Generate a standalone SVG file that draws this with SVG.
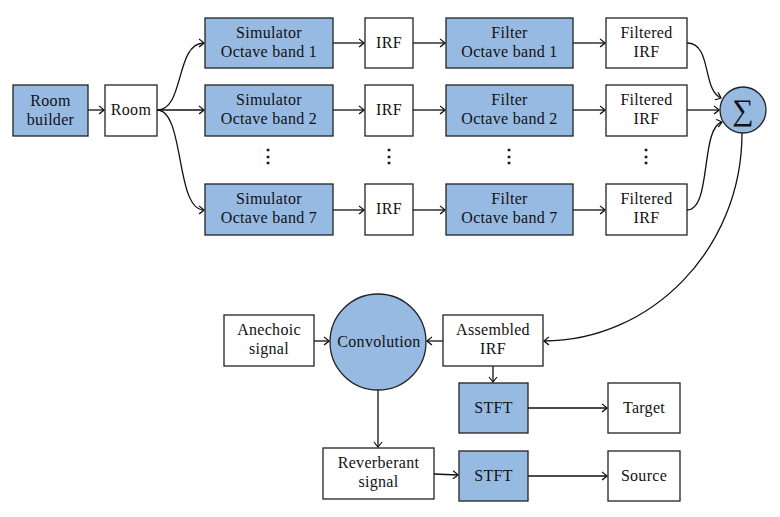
<svg xmlns="http://www.w3.org/2000/svg" width="780" height="517" viewBox="0 0 780 517">
<style>
.b{fill:#97bae3;stroke:#222;stroke-width:1.3}
.w{fill:#fff;stroke:#222;stroke-width:1.3}
text{font-size:16px;letter-spacing:0.3px;fill:#111;text-anchor:middle}
.c path,.c line{fill:none;stroke:#111;stroke-width:1.3}
.d{font-size:18px;font-weight:bold}
</style>
<defs>
<marker id="a" viewBox="-6 -5 8 10" markerWidth="8" markerHeight="10" refX="0" refY="0" orient="auto" markerUnits="userSpaceOnUse">
<path d="M-5,-4 Q-1,-1 0,0 Q-1,1 -5,4" fill="none" stroke="#111" stroke-width="1.2"/>
</marker>
</defs>
<rect width="780" height="517" fill="#fff"/>
<g class="c" marker-end="url(#a)">
<line x1="88" y1="110" x2="104" y2="110"/>
<path d="M157,110 C185,110 175,43 204,43"/>
<line x1="157" y1="110" x2="204" y2="110"/>
<path d="M157,110 C185,110 175,210 204,210"/>
<line x1="333" y1="43" x2="364" y2="43"/>
<line x1="333" y1="110" x2="364" y2="110"/>
<line x1="333" y1="210" x2="364" y2="210"/>
<line x1="413" y1="43" x2="445" y2="43"/>
<line x1="413" y1="110" x2="445" y2="110"/>
<line x1="413" y1="210" x2="445" y2="210"/>
<line x1="573" y1="43" x2="605" y2="43"/>
<line x1="573" y1="110" x2="605" y2="110"/>
<line x1="573" y1="210" x2="605" y2="210"/>
<path d="M687,43 C712,43 702,90 721,98"/>
<line x1="687" y1="110" x2="719" y2="110"/>
<path d="M687,210 C712,210 700,128 722,122"/>
<path d="M742,133 C742,250 650,341 544,341"/>
<line x1="443" y1="341" x2="427" y2="341"/>
<line x1="314" y1="341" x2="329" y2="341"/>
<line x1="493" y1="366" x2="493" y2="382"/>
<line x1="378" y1="390" x2="378" y2="447"/>
<line x1="434" y1="474" x2="458" y2="475"/>
<line x1="528" y1="408" x2="607" y2="408"/>
<line x1="528" y1="476" x2="607" y2="476"/>
</g>
<g font-family="'Liberation Serif', 'Times New Roman', 'DejaVu Serif', serif">
<g id="roombuilder"><rect class="b" x="13" y="85" width="75" height="51"/><text x="50.5" y="106">Room</text><text x="50.5" y="125">builder</text></g>
<g id="room"><rect class="w" x="105" y="85" width="52" height="51"/><text x="131" y="115">Room</text></g>
<g id="sim1"><rect class="b" x="205" y="18" width="128" height="50"/><text x="269" y="38">Simulator</text><text x="269" y="57">Octave band 1</text></g>
<g id="sim2"><rect class="b" x="205" y="85" width="128" height="51"/><text x="269" y="105">Simulator</text><text x="269" y="124">Octave band 2</text></g>
<g id="sim7"><rect class="b" x="205" y="184" width="128" height="51"/><text x="269" y="204">Simulator</text><text x="269" y="223">Octave band 7</text></g>
<g id="irf1"><rect class="w" x="365" y="18" width="48" height="50"/><text x="389" y="48">IRF</text></g>
<g id="irf2"><rect class="w" x="365" y="85" width="48" height="51"/><text x="389" y="115">IRF</text></g>
<g id="irf7"><rect class="w" x="365" y="184" width="48" height="51"/><text x="389" y="214">IRF</text></g>
<g id="filt1"><rect class="b" x="446" y="18" width="127" height="50"/><text x="509.5" y="38">Filter</text><text x="509.5" y="57">Octave band 1</text></g>
<g id="filt2"><rect class="b" x="446" y="85" width="127" height="51"/><text x="509.5" y="105">Filter</text><text x="509.5" y="124">Octave band 2</text></g>
<g id="filt7"><rect class="b" x="446" y="184" width="127" height="51"/><text x="509.5" y="204">Filter</text><text x="509.5" y="223">Octave band 7</text></g>
<g id="firf1"><rect class="w" x="606" y="18" width="81" height="50"/><text x="646.5" y="38">Filtered</text><text x="646.5" y="57">IRF</text></g>
<g id="firf2"><rect class="w" x="606" y="85" width="81" height="51"/><text x="646.5" y="105">Filtered</text><text x="646.5" y="124">IRF</text></g>
<g id="firf7"><rect class="w" x="606" y="184" width="81" height="51"/><text x="646.5" y="204">Filtered</text><text x="646.5" y="223">IRF</text></g>
<g id="dots"><text class="d" x="268" y="162">⋮</text><text class="d" x="389" y="162">⋮</text><text class="d" x="509" y="162">⋮</text><text class="d" x="646" y="162">⋮</text></g>
<g id="sum"><circle class="b" cx="743" cy="110" r="23"/><text x="743" y="120" style="font-size:30px;letter-spacing:0">∑</text></g>
<g id="anechoic"><rect class="w" x="224" y="315" width="90" height="51"/><text x="269" y="335">Anechoic</text><text x="269" y="354">signal</text></g>
<g id="conv"><circle class="b" cx="378" cy="342" r="48"/><text x="379" y="347">Convolution</text></g>
<g id="assembled"><rect class="w" x="443" y="315" width="100" height="51"/><text x="493" y="335">Assembled</text><text x="493" y="354">IRF</text></g>
<g id="stft1"><rect class="b" x="459" y="383" width="69" height="50"/><text x="493.5" y="413">STFT</text></g>
<g id="target"><rect class="w" x="608" y="383" width="72" height="50"/><text x="644" y="413">Target</text></g>
<g id="reverb"><rect class="w" x="323" y="448" width="111" height="51"/><text x="378.5" y="468">Reverberant</text><text x="378.5" y="487">signal</text></g>
<g id="stft2"><rect class="b" x="459" y="451" width="69" height="50"/><text x="493.5" y="481">STFT</text></g>
<g id="source"><rect class="w" x="608" y="451" width="72" height="50"/><text x="644" y="481">Source</text></g>
</g>
</svg>
